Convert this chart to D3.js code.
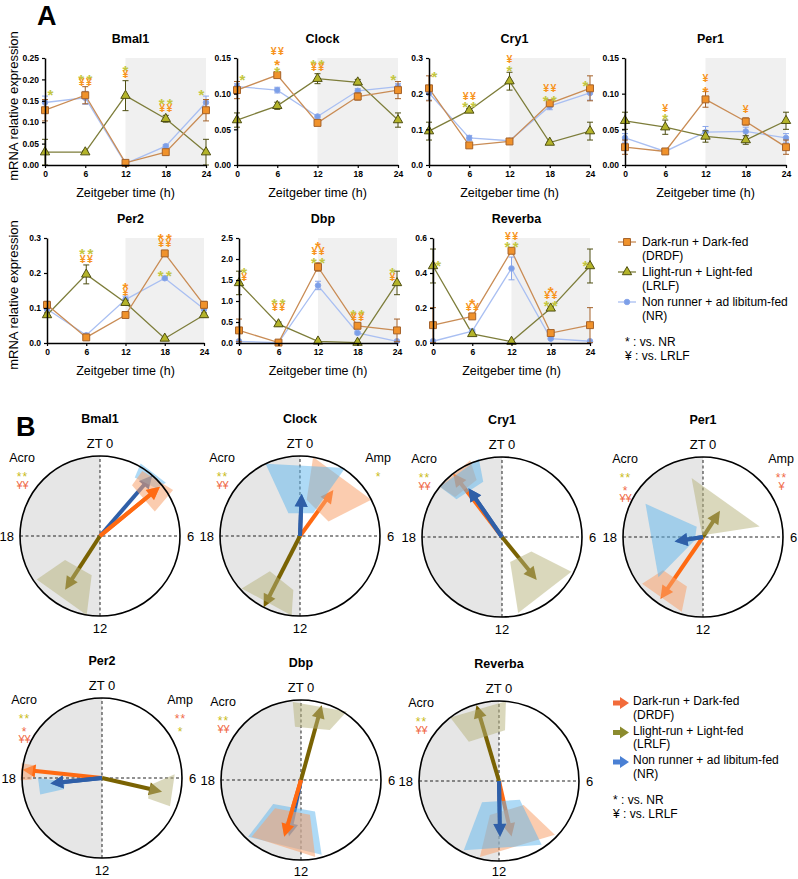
<!DOCTYPE html>
<html>
<head>
<meta charset="utf-8">
<script src="https://cdn.jsdelivr.net/npm/d3@7"></script>
<style>
body { margin: 0; background: #fff; }
svg { display: block; font-family: "Liberation Sans", Arial, Helvetica, sans-serif; }
</style>
</head>
<body>
<script>
// ---------- data: panel A (mRNA time courses) ----------
const genes = ["Bmal1", "Clock", "Cry1", "Per1", "Per2", "Dbp", "Reverba"];
const zt = [0, 6, 12, 18, 24];
const yMax = [0.25, 0.15, 0.3, 0.15, 0.3, 2.5, 0.6];
const yStep = [0.05, 0.05, 0.1, 0.05, 0.1, 0.5, 0.2];
const yFmt = [".2f", ".2f", ".1f", ".2f", ".1f", ".1f", ".1f"];

const drdfMean = [
  [0.128, 0.163, 0.005, 0.030, 0.128],
  [0.105, 0.126, 0.059, 0.096, 0.105],
  [0.215, 0.055, 0.066, 0.173, 0.215],
  [0.025, 0.019, 0.092, 0.061, 0.025],
  [0.109, 0.016, 0.080, 0.256, 0.109],
  [0.30, 0.01, 1.81, 0.41, 0.30],
  [0.102, 0.152, 0.527, 0.057, 0.102]
];
const drdfSem = [
  [0.025, 0.020, 0.002, 0.004, 0.025],
  [0.012, 0.003, 0.003, 0.005, 0.012],
  [0.035, 0.003, 0.003, 0.005, 0.035],
  [0.010, 0.003, 0.011, 0.005, 0.010],
  [0.010, 0.003, 0.003, 0.008, 0.010],
  [0.27, 0.02, 0.10, 0.05, 0.27],
  [0.100, 0.010, 0.015, 0.008, 0.100]
];
const lrlfMean = [
  [0.030, 0.030, 0.162, 0.108, 0.030],
  [0.063, 0.083, 0.121, 0.116, 0.063],
  [0.095, 0.153, 0.235, 0.063, 0.095],
  [0.062, 0.053, 0.040, 0.035, 0.062],
  [0.080, 0.196, 0.115, 0.013, 0.080],
  [1.43, 0.45, 0.04, 0.01, 1.43],
  [0.440, 0.052, 0.008, 0.198, 0.440]
];
const lrlfSem = [
  [0.030, 0.003, 0.035, 0.008, 0.030],
  [0.010, 0.005, 0.007, 0.004, 0.010],
  [0.025, 0.005, 0.025, 0.003, 0.025],
  [0.012, 0.010, 0.008, 0.006, 0.012],
  [0.006, 0.027, 0.007, 0.002, 0.006],
  [0.28, 0.05, 0.01, 0.01, 0.28],
  [0.097, 0.005, 0.002, 0.010, 0.097]
];
const nrMean = [
  [0.146, 0.157, 0.003, 0.044, 0.146],
  [0.110, 0.105, 0.068, 0.104, 0.110],
  [0.202, 0.076, 0.068, 0.165, 0.202],
  [0.038, 0.019, 0.046, 0.047, 0.038],
  [0.097, 0.022, 0.124, 0.185, 0.097],
  [0.04, 0.01, 1.37, 0.24, 0.04],
  [0.010, 0.068, 0.426, 0.025, 0.010]
];
const nrSem = [
  [0.015, 0.015, 0.002, 0.004, 0.015],
  [0.004, 0.004, 0.002, 0.003, 0.004],
  [0.020, 0.007, 0.003, 0.010, 0.020],
  [0.006, 0.004, 0.008, 0.006, 0.006],
  [0.005, 0.003, 0.010, 0.004, 0.005],
  [0.02, 0.01, 0.10, 0.03, 0.02],
  [0.003, 0.010, 0.065, 0.004, 0.003]
];

// significance marks: [ZT, level in data units, text, g = green / o = orange]
const sigA = [
  [[0.8, 0.175, "*", "g"], [6, 0.210, "**", "g"], [6, 0.193, "¥¥", "o"], [12, 0.229, "*", "g"], [12, 0.212, "¥", "o"],
   [18, 0.153, "**", "g"], [18, 0.134, "¥¥", "o"], [23.3, 0.175, "*", "g"]],
  [[0.8, 0.126, "*", "g"], [6, 0.160, "¥¥", "o"], [6, 0.147, "*", "o"], [6, 0.137, "*", "g"],
   [12, 0.147, "**", "g"], [12, 0.137, "¥¥", "o"], [23.3, 0.126, "*", "g"]],
  [[0.8, 0.258, "*", "g"], [6, 0.193, "¥¥", "o"], [6, 0.174, "**", "g"], [12, 0.297, "¥", "o"], [12, 0.275, "*", "g"],
   [18, 0.216, "¥¥", "o"], [18, 0.191, "**", "g"], [23.3, 0.233, "*", "g"]],
  [[6, 0.080, "¥", "o"], [6, 0.070, "*", "g"], [12, 0.122, "¥", "o"], [12, 0.109, "*", "o"], [18, 0.078, "¥", "o"]],
  [[6, 0.266, "**", "g"], [6, 0.240, "¥¥", "o"], [12, 0.169, "*", "o"], [12, 0.146, "¥", "o"],
   [18, 0.309, "**", "o"], [18, 0.286, "¥¥", "o"], [18, 0.203, "**", "g"]],
  [[0.8, 1.77, "*", "g"], [0.8, 1.58, "¥", "o"], [6, 1.04, "**", "g"], [6, 0.85, "¥¥", "o"],
   [12, 2.38, "*", "o"], [12, 2.19, "¥¥", "o"], [12, 2.00, "**", "g"], [18, 0.78, "**", "g"], [18, 0.61, "¥¥", "o"],
   [23.3, 1.77, "*", "g"], [23.3, 1.58, "¥", "o"]],
  [[0.8, 0.467, "*", "g"], [6, 0.248, "*", "o"], [6, 0.208, "¥¥", "o"], [12, 0.612, "¥¥", "o"], [12, 0.571, "**", "g"],
   [18, 0.317, "*", "o"], [18, 0.277, "¥¥", "o"], [18, 0.237, "**", "g"], [23.3, 0.467, "*", "g"]]
];

// ---------- data: panel B (cosinor acrophase / amplitude) ----------
const drdfAcro = [3.37, 2.4, 21.5, 14.3, 18.4, 13.1, 11.15];
const drdfAmp = [0.97, 0.71, 1.0, 0.94, 1.0, 0.74, 0.71];
const lrlfAcro = [14.2, 13.8, 9.4, 2.2, 6.86, 1.03, 22.9];
const lrlfAmp = [0.8, 1.0, 0.69, 0.39, 0.77, 0.97, 0.99];
const nrAcro = [2.72, 0.15, 21.7, 17.4, 17.6, 12.8, 11.93];
const nrAmp = [1.0, 0.53, 0.74, 0.36, 0.65, 0.72, 0.70];

// confidence regions, vertices as [ZT hour, relative amplitude]
const drdfCI = [
  [[2.15, 0.75], [2.2, 0.97], [3.85, 1.08], [4.4, 0.75]],
  [[0.63, 1.0], [4.2, 1.0], [4.2, 0.4], [0.7, 0.46]],
  [[20.6, 1.0], [22.5, 1.04], [22.4, 0.78], [20.7, 0.77]],
  [[15.5, 0.96], [15.35, 0.65], [13.2, 0.65], [13.06, 0.97]],
  [[17.9, 0.88], [17.9, 1.02], [18.7, 1.02], [18.7, 0.87]],
  [[14.84, 0.48], [11.04, 0.45], [11.3, 0.98], [14.73, 0.94]],
  [[13.0, 0.44], [8.95, 0.43], [8.93, 0.97], [12.94, 0.98]]
];
const lrlfCI = [
  [[15.7, 0.96], [15.7, 0.53], [12.8, 0.5], [12.64, 1.0]],
  [[15.2, 0.98], [14.7, 0.58], [12.47, 0.68], [12.4, 1.0]],
  [[10.8, 0.33], [7.75, 0.41], [7.77, 0.97], [11.2, 0.97]],
  [[23.27, 0.75], [5.3, 0.72], [2.0, 0.03], [22.5, 0.03]],
  [[6.55, 0.61], [5.8, 0.91], [7.5, 0.92], [7.6, 0.63]],
  [[23.6, 0.98], [2.25, 1.03], [2.0, 0.72], [23.57, 0.67]],
  [[21.5, 1.0], [0.33, 1.0], [0.45, 0.64], [21.5, 0.62]]
];
const nrCI = [
  [[1.95, 1.04], [2.05, 0.85], [3.3, 0.92], [3.4, 1.06]],
  [[22.3, 1.0], [2.24, 1.02], [2.0, 0.33], [22.2, 0.32]],
  [[20.6, 1.0], [22.9, 1.02], [22.75, 0.73], [20.65, 0.74]],
  [[20.0, 0.83], [21.9, 0.15], [16.6, 0.11], [15.2, 0.75]],
  [[18.0, 0.8], [17.6, 0.46], [16.9, 0.5], [17.0, 0.8]],
  [[15.27, 0.46], [10.4, 0.43], [10.97, 0.97], [14.86, 0.97]],
  [[14.57, 0.34], [8.8, 0.35], [9.75, 0.96], [13.8, 0.97]]
];
// which group is drawn last (on top) in each dial
const topGroup = ["DRDF", "NR", "NR", "NR", "NR", "DRDF", "NR"];

const acroSig = [
  [["**", "g"], ["¥¥", "r"]],
  [["**", "g"], ["¥¥", "r"]],
  [["**", "g"], ["¥¥", "r"]],
  [["**", "g"], ["*", "r"], ["¥¥", "r"]],
  [["**", "g"], ["*", "r"], ["¥¥", "r"]],
  [["**", "g"], ["¥¥", "r"]],
  [["**", "g"], ["¥¥", "r"]]
];
const ampSig = [[], [["*", "g"]], [], [["**", "r"], ["¥", "r"]], [["**", "r"], ["*", "g"]], [], []];

const legendNames = [["Dark-run + Dark-fed", "(DRDF)"], ["Llight-run + Light-fed", "(LRLF)"], ["Non runner + ad libitum-fed", "(NR)"]];
const legendNotes = ["* : vs. NR", "¥ : vs. LRLF"];

// ---------- layout ----------
const W = 798, H = 879;
const layA = [
  {x: 45, y: 58, w: 161, h: 107}, {x: 237, y: 58, w: 161, h: 107},
  {x: 429, y: 58, w: 161, h: 107}, {x: 625, y: 58, w: 161, h: 107},
  {x: 47, y: 238, w: 157, h: 105}, {x: 239, y: 238, w: 158, h: 105},
  {x: 433, y: 238, w: 157, h: 105}
];
const layB = [
  {cx: 100, cy: 536}, {cx: 300, cy: 536}, {cx: 502, cy: 537}, {cx: 703, cy: 537},
  {cx: 102, cy: 778}, {cx: 301, cy: 780}, {cx: 499, cy: 781}
];
const R = 80;

const styleA = {
  DRDF: {line: "#c98c55", stroke: "#a5622a", fill: "#f0922b", shape: d3.symbolSquare, size: 48},
  LRLF: {line: "#7d7d3a", stroke: "#4f4f12", fill: "#b4b42a", shape: d3.symbolTriangle, size: 38},
  NR:   {line: "#a9bff2", stroke: "#8aa6ea", fill: "#7b9fe8", shape: d3.symbolCircle, size: 24}
};
const sigColA = {g: "#c3c640", o: "#f7941d"};
const sigColB = {g: "#c9bb1a", r: "#f06a48"};
const styleB = {
  DRDF: {arrow: "#ff6a12", fill: "#f8a36e", op: 0.55},
  LRLF: {arrow: "#7a6303", fill: "#b5b27a", op: 0.5},
  NR:   {arrow: "#2f5fa8", fill: "#5db6ee", op: 0.5}
};

const svg = d3.select("body").append("svg").attr("width", W).attr("height", H);
svg.append("rect").attr("width", W).attr("height", H).attr("fill", "#fff");

svg.append("text").attr("x", 37).attr("y", 25).text("A")
  .attr("font-size", 27).attr("font-weight", "bold");
svg.append("text").attr("x", 16).attr("y", 436).text("B")
  .attr("font-size", 27).attr("font-weight", "bold");

// y axis titles of panel A
[106, 295].forEach(cy => {
  svg.append("text")
    .attr("transform", `translate(18,${cy}) rotate(-90)`)
    .attr("text-anchor", "middle")
    .attr("font-size", 13)
    .text("mRNA relative expression");
});

const groupsA = [
  {key: "NR", mean: nrMean, sem: nrSem},
  {key: "LRLF", mean: lrlfMean, sem: lrlfSem},
  {key: "DRDF", mean: drdfMean, sem: drdfSem}
];

function timeCourse(i) {
  const L = layA[i];
  const gp = svg.append("g").attr("transform", `translate(${L.x},${L.y})`);
  const x = d3.scaleLinear().domain([0, 24]).range([0, L.w]);
  const y = d3.scaleLinear().domain([0, yMax[i]]).range([L.h, 0]);

  gp.append("rect")
    .attr("x", x(12)).attr("y", y(yMax[i]))
    .attr("width", x(24) - x(12)).attr("height", y(0) - y(yMax[i]))
    .attr("fill", "#f0f0f0");

  gp.append("text").attr("x", L.w / 2 + 5).attr("y", -15)
    .attr("text-anchor", "middle").attr("font-size", 12.5).attr("font-weight", "bold")
    .text(genes[i]);
  gp.append("text").attr("x", L.w / 2).attr("y", L.h + 32)
    .attr("text-anchor", "middle").attr("font-size", 12.5)
    .text("Zeitgeber time (h)");

  const line = d3.line().x(d => x(d.t)).y(d => y(d.v));
  groupsA.forEach(s => {
    const st = styleA[s.key];
    const pts = zt.map((t, k) => ({t: t, v: s.mean[i][k], e: s.sem[i][k]}));
    gp.append("path").datum(pts).attr("d", line)
      .attr("fill", "none").attr("stroke", st.line).attr("stroke-width", 1.3);
  });
  groupsA.forEach(s => {
    const st = styleA[s.key];
    const pts = zt.map((t, k) => ({t: t, v: s.mean[i][k], e: s.sem[i][k]}));
    const eb = gp.append("g").attr("stroke", st.stroke).attr("stroke-width", 1);
    eb.selectAll("line.v").data(pts).enter().append("line")
      .attr("x1", d => x(d.t)).attr("x2", d => x(d.t))
      .attr("y1", d => y(d.v - d.e)).attr("y2", d => y(d.v + d.e));
    eb.selectAll("line.t").data(pts).enter().append("line")
      .attr("x1", d => x(d.t) - 3).attr("x2", d => x(d.t) + 3)
      .attr("y1", d => y(d.v + d.e)).attr("y2", d => y(d.v + d.e));
    eb.selectAll("line.b").data(pts).enter().append("line")
      .attr("x1", d => x(d.t) - 3).attr("x2", d => x(d.t) + 3)
      .attr("y1", d => y(d.v - d.e)).attr("y2", d => y(d.v - d.e));
    gp.selectAll(null).data(pts).enter().append("path")
      .attr("d", d3.symbol().type(st.shape).size(st.size))
      .attr("transform", d => `translate(${x(d.t)},${y(d.v)})`)
      .attr("fill", st.fill).attr("stroke", st.stroke).attr("stroke-width", 1);
  });

  // axes
  const ax = gp.append("g").attr("transform", `translate(0,${L.h})`)
    .call(d3.axisBottom(x).tickValues(zt).tickSize(3).tickSizeOuter(0).tickFormat(d3.format("d")));
  const ay = gp.append("g")
    .call(d3.axisLeft(y).tickValues(d3.range(0, yMax[i] + yStep[i] / 2, yStep[i]))
      .tickSize(3).tickSizeOuter(0).tickFormat(d3.format(yFmt[i])));
  [ax, ay].forEach(a => {
    a.select(".domain").attr("stroke", "#000").attr("stroke-width", 1.5);
    a.selectAll(".tick line").attr("stroke", "#000").attr("stroke-width", 1.2);
    a.selectAll("text").attr("font-size", 8.5).attr("font-weight", "bold")
      .attr("font-family", "'Liberation Sans', Arial, sans-serif").attr("fill", "#000");
  });

  // significance: asterisks sit high in the em box, so they are pulled down a little
  gp.selectAll(null).data(sigA[i]).enter().append("text")
    .attr("x", d => x(d[0])).attr("y", d => y(d[1]))
    .attr("text-anchor", "middle")
    .attr("dominant-baseline", "central")
    .attr("dy", d => d[2].includes("*") ? "0.26em" : "0em")
    .attr("dx", d => d[2].includes("*") ? 1.2 : 0.7)
    .attr("font-size", d => d[2].includes("*") ? 15 : 10.5)
    .attr("font-weight", "bold")
    .attr("letter-spacing", d => d[2].includes("*") ? 2.4 : 1.4)
    .attr("fill", d => sigColA[d[3]])
    .text(d => d[2]);
}
genes.forEach((g, i) => timeCourse(i));

// legend A
const legA = svg.append("g").attr("transform", "translate(618,242)");
["DRDF", "LRLF", "NR"].forEach((k, j) => {
  const st = styleA[k];
  const gy = j * 30;
  legA.append("line").attr("x1", 0).attr("x2", 18).attr("y1", gy).attr("y2", gy)
    .attr("stroke", st.line).attr("stroke-width", 1.3);
  legA.append("path").attr("d", d3.symbol().type(st.shape).size(st.size)())
    .attr("transform", `translate(9,${gy})`)
    .attr("fill", st.fill).attr("stroke", st.stroke);
  legendNames[j].forEach((t, m) => {
    legA.append("text").attr("x", 24).attr("y", gy + 4 + m * 14)
      .attr("font-size", 12).text(t);
  });
});
legendNotes.forEach((t, m) => {
  legA.append("text").attr("x", 7).attr("y", 104 + m * 14).attr("font-size", 12).text(t);
});

// ---------- panel B ----------
const ang = d3.scaleLinear().domain([0, 24]).range([0, 2 * Math.PI]);
const rad = d3.scaleLinear().domain([0, 1]).range([0, R]);
const groupsB = {
  DRDF: {acro: drdfAcro, amp: drdfAmp, ci: drdfCI},
  LRLF: {acro: lrlfAcro, amp: lrlfAmp, ci: lrlfCI},
  NR: {acro: nrAcro, amp: nrAmp, ci: nrCI}
};

function arrowShape(g, a, r, color) {
  const tip = d3.pointRadial(ang(a), rad(r));
  const len = Math.hypot(tip[0], tip[1]);
  const ux = tip[0] / len, uy = tip[1] / len;
  const head = 13, hw = 6.5;
  const bx = tip[0] - ux * head, by = tip[1] - uy * head;
  g.append("line").attr("x1", 0).attr("y1", 0).attr("x2", bx + ux * 2).attr("y2", by + uy * 2)
    .attr("stroke", color).attr("stroke-width", 4);
  g.append("path")
    .attr("d", `M${tip[0]},${tip[1]}L${bx - uy * hw},${by + ux * hw}L${bx + uy * hw},${by - ux * hw}Z`)
    .attr("fill", color);
}

function dial(i) {
  const L = layB[i];
  const g = svg.append("g").attr("transform", `translate(${L.cx},${L.cy})`);
  g.append("path")
    .attr("d", d3.arc().innerRadius(0).outerRadius(R).startAngle(ang(12)).endAngle(ang(24))())
    .attr("fill", "#e6e6e6");
  const dash = g.append("g").attr("stroke", "#222").attr("stroke-width", 1).attr("stroke-dasharray", "3,2.5");
  [0, 6].forEach(h => {
    const p = d3.pointRadial(ang(h), R);
    dash.append("line").attr("x1", -p[0]).attr("y1", -p[1]).attr("x2", p[0]).attr("y2", p[1]);
  });

  const order = topGroup[i] === "NR" ? ["LRLF", "DRDF", "NR"] : ["LRLF", "NR", "DRDF"];
  order.forEach(k => {
    const s = groupsB[k], st = styleB[k];
    arrowShape(g, s.acro[i], s.amp[i], st.arrow);
  });
  order.forEach(k => {
    const s = groupsB[k], st = styleB[k];
    g.append("path")
      .attr("d", d3.line()(s.ci[i].map(v => d3.pointRadial(ang(v[0]), rad(v[1])))) + "Z")
      .attr("fill", st.fill).attr("fill-opacity", st.op);
  });
  // the top group's arrow stays visible over the shading
  const tk = topGroup[i];
  arrowShape(g, groupsB[tk].acro[i], groupsB[tk].amp[i], styleB[tk].arrow);

  g.append("circle").attr("r", R).attr("fill", "none").attr("stroke", "#000").attr("stroke-width", 1.6);

  g.append("text").attr("y", -113).attr("text-anchor", "middle")
    .attr("font-size", 12.5).attr("font-weight", "bold").text(genes[i]);
  const low = Math.min(97, H - 3 - L.cy);
  const lab = [["ZT 0", 0, -88, "middle"], ["6", 87, 5, "start"], ["12", 0, low, "middle"], ["18", -86, 5, "end"]];
  lab.forEach(d => g.append("text").attr("x", d[1]).attr("y", d[2]).attr("text-anchor", d[3])
    .attr("font-size", 13).text(d[0]));

  const sigBlock = (title, list, dx) => {
    g.append("text").attr("x", dx).attr("y", -74).attr("text-anchor", "middle")
      .attr("font-size", 12.5).text(title);
    list.forEach((d, m) => {
      const star = d[0].includes("*");
      g.append("text").attr("x", dx + 0.5).attr("y", -60 + m * 12.5 + (star ? 5 : 0))
        .attr("text-anchor", "middle")
        .attr("font-size", star ? 12 : 11)
        .attr("letter-spacing", star ? 1 : 0)
        .attr("fill", sigColB[d[1]]).text(d[0]);
    });
  };
  sigBlock("Acro", acroSig[i], -78);
  if (ampSig[i].length) sigBlock("Amp", ampSig[i], 78);
}
genes.forEach((g, i) => dial(i));

// legend B
const legB = svg.append("g").attr("transform", "translate(613,701)");
const legArrow = {DRDF: "#f26b3a", LRLF: "#8b8b2e", NR: "#4a80d4"};
["DRDF", "LRLF", "NR"].forEach((k, j) => {
  const gy = j * 29.5 + 2;
  legB.append("path")
    .attr("d", `M0,${gy - 2.5}H7V${gy - 6}L16,${gy}L7,${gy + 6}V${gy + 2.5}H0Z`)
    .attr("fill", legArrow[k]);
  legendNames[j].forEach((t, m) => {
    legB.append("text").attr("x", 20).attr("y", gy + 2 + m * 13.5)
      .attr("font-size", 12).text(t);
  });
});
legendNotes.forEach((t, m) => {
  legB.append("text").attr("x", 0).attr("y", 103 + m * 14).attr("font-size", 12).text(t);
});
</script>
</body>
</html>
